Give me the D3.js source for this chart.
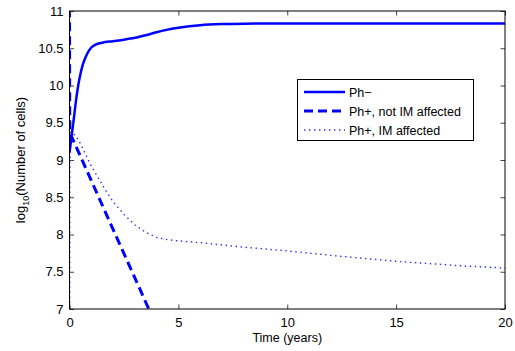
<!DOCTYPE html>
<html>
<head>
<meta charset="utf-8">
<script src="https://cdn.jsdelivr.net/npm/d3@7"></script>
<style>
  html, body { margin: 0; padding: 0; background: #fff; }
  svg { display: block; font-family: "Liberation Sans", Arial, Helvetica, sans-serif; }
</style>
</head>
<body>
<svg id="chart" width="515" height="351"></svg>
<script>
// ---- data ----
const seriesNames = ["Ph\u2212", "Ph+, not IM affected", "Ph+, IM affected"];
const phMinusT = [0, 0.1, 0.2, 0.3, 0.4, 0.5, 0.6, 0.8, 1.0, 1.2, 1.5, 2, 2.5, 3, 3.5, 4, 4.5, 5, 5.5, 6, 7, 8, 10, 15, 20];
const phMinusV = [9.1, 9.33, 9.56, 9.8, 10.0, 10.15, 10.27, 10.42, 10.51, 10.55, 10.575, 10.595, 10.615, 10.64, 10.675, 10.715, 10.75, 10.775, 10.795, 10.81, 10.825, 10.83, 10.832, 10.832, 10.832];
const notIMT = [0, 0.01, 3.64, 4.0];
const notIMV = [11.6, 9.37, 7.0, 6.77];
const imT = [0, 0.02, 0.1, 0.3, 0.5, 0.7, 1.0, 1.3, 1.6, 2.0, 2.5, 3.0, 3.5, 4.0, 4.5, 5, 6, 7, 8, 10, 12, 15, 18, 20];
const imV = [5.0, 9.37, 9.37, 9.32, 9.22, 9.1, 8.92, 8.77, 8.62, 8.44, 8.27, 8.13, 8.03, 7.96, 7.93, 7.915, 7.89, 7.86, 7.83, 7.78, 7.72, 7.64, 7.58, 7.55];
const xTicks = [0, 5, 10, 15, 20];
const yTicks = [7, 7.5, 8, 8.5, 9, 9.5, 10, 10.5, 11];

// ---- layout ----
const svg = d3.select("#chart");
const L = 69.5, R = 505, T = 11, B = 309;
const x = d3.scaleLinear().domain([0, 20]).range([L, R]);
const y = d3.scaleLinear().domain([7, 11]).range([B, T]);

svg.append("defs").append("clipPath").attr("id", "clip")
  .append("rect").attr("x", L).attr("y", T).attr("width", R - L).attr("height", B - T);

const line = d3.line().x(d => x(d[0])).y(d => y(d[1]));
const zip = (a, b) => a.map((t, i) => [t, b[i]]);

const g = svg.append("g").attr("clip-path", "url(#clip)");
g.append("path").datum(zip(imT, imV)).attr("d", line)
  .attr("fill", "none").attr("stroke", "#2a2aff").attr("stroke-width", 1.4)
  .attr("stroke-dasharray", "1.4,3.6");
g.append("path").datum(zip(notIMT, notIMV)).attr("d", line)
  .attr("fill", "none").attr("stroke", "#0000ff").attr("stroke-width", 3)
  .attr("stroke-dasharray", "9,5");
g.append("path").datum(zip(phMinusT, phMinusV)).attr("d", line.curve(d3.curveMonotoneX))
  .attr("fill", "none").attr("stroke", "#0000ff").attr("stroke-width", 2.5);

// ---- axes (MATLAB style, ticks inward, box) ----
const tickLen = 4.5;
const ax = svg.append("g");
ax.append("g").attr("transform", `translate(0,${B})`)
  .call(d3.axisBottom(x).tickValues(xTicks).tickSize(-tickLen).tickPadding(7).tickFormat(d3.format("d")))
  .call(s => { s.select(".domain").remove(); s.selectAll("text").attr("font-size", 13).attr("fill", "#000").attr("dy", "0.85em"); s.selectAll("line").attr("stroke", "#444"); });
ax.append("g").attr("transform", `translate(0,${T})`)
  .call(d3.axisTop(x).tickValues(xTicks).tickSize(-tickLen).tickFormat(""))
  .call(s => { s.select(".domain").remove(); s.selectAll("line").attr("stroke", "#444"); });
ax.append("g").attr("transform", `translate(${L},0)`)
  .call(d3.axisLeft(y).tickValues(yTicks).tickSize(-tickLen).tickPadding(6).tickFormat(d => String(d)))
  .call(s => { s.select(".domain").remove(); s.selectAll("text").attr("font-size", 13).attr("fill", "#000"); s.selectAll("line").attr("stroke", "#444"); });
ax.append("g").attr("transform", `translate(${R},0)`)
  .call(d3.axisRight(y).tickValues(yTicks).tickSize(-tickLen).tickFormat(""))
  .call(s => { s.select(".domain").remove(); s.selectAll("line").attr("stroke", "#444"); });
svg.append("rect").attr("x", L).attr("y", T).attr("width", R - L).attr("height", B - T)
  .attr("fill", "none").attr("stroke", "#000").attr("stroke-width", 1);

// axis titles
svg.append("text").attr("x", (L + R) / 2).attr("y", 342).attr("text-anchor", "middle")
  .attr("font-size", 12.5).text("Time (years)");
const yl = svg.append("text").attr("transform", "translate(25,160) rotate(-90)")
  .attr("text-anchor", "middle").attr("font-size", 13);
yl.append("tspan").text("log");
yl.append("tspan").attr("font-size", 9).attr("dy", 4).text("10");
yl.append("tspan").attr("dy", -4).text("(Number of cells)");

// ---- legend ----
const lg = svg.append("g");
lg.append("rect").attr("x", 297.5).attr("y", 79.5).attr("width", 176).attr("height", 61)
  .attr("fill", "#fff").attr("stroke", "#000").attr("stroke-width", 1);
const styles = [
  { stroke: "#0000ff", w: 2.5, dash: null },
  { stroke: "#0000ff", w: 3, dash: "9,5" },
  { stroke: "#2a2aff", w: 1.4, dash: "1.4,3.6" }
];
seriesNames.forEach((name, i) => {
  const yy = 92 + i * 19;
  lg.append("line").attr("x1", 304).attr("x2", 345).attr("y1", yy).attr("y2", yy)
    .attr("stroke", styles[i].stroke).attr("stroke-width", styles[i].w)
    .attr("stroke-dasharray", styles[i].dash);
  lg.append("text").attr("x", 349).attr("y", yy + 4.5).attr("font-size", 12.5).text(name);
});
</script>
</body>
</html>
